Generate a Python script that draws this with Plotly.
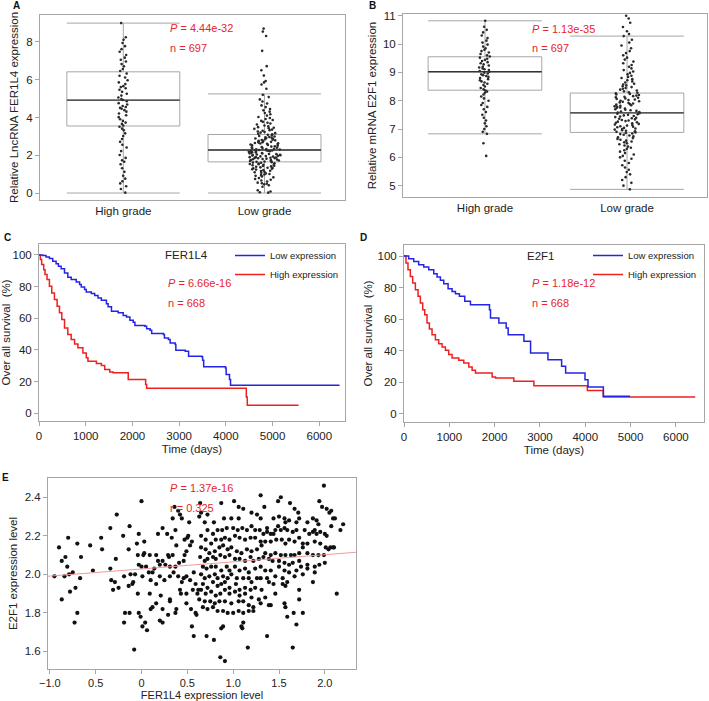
import plotly.graph_objects as go

FONT = "Liberation Sans, Arial, sans-serif"
TXT_RED = "#e8252b"
BLUE = "#2424e6"
RED = "#ee2020"
GRAY = "#a6a6a6"

# ---------------- Panel A / B : box plot data ----------------
grades = ["High grade", "Low grade"]

a_q1 = [3.55, 1.65]
a_median = [4.92, 2.28]
a_q3 = [6.42, 3.10]
a_lower = [0.0, 0.0]
a_upper = [9.0, 5.25]

b_q1 = [8.37, 6.88]
b_median = [9.02, 7.57]
b_q3 = [9.55, 8.27]
b_lower = [6.83, 4.87]
b_upper = [10.82, 10.28]

a_high_pts = [9.0, 8.25, 8.12, 7.95, 7.78, 7.62, 7.48, 7.31, 7.17, 7.06, 6.97, 6.83, 6.71, 6.57,
              6.46, 6.33, 6.21, 6.12, 5.97, 5.86, 5.77, 5.66, 5.61, 5.55, 5.47, 5.36, 5.26, 5.16,
              5.06, 4.98, 4.93, 4.86, 4.76, 4.69, 4.61, 4.56, 4.51, 4.46, 4.39, 4.31, 4.21, 4.12,
              4.02, 3.91, 3.82, 3.73, 3.66, 3.58, 3.51, 3.41, 3.32, 3.16, 3.02, 2.86, 2.71, 2.56,
              2.41, 2.22, 2.01, 1.86, 1.73, 1.66, 1.52, 1.31, 1.12, 0.91, 0.76, 0.62, 0.51, 0.36,
              0.21, 0.02]
a_low_pts = [0.02, 0.04, 0.08, 0.15, 0.33, 0.41, 0.46, 0.49, 0.52, 0.55, 0.61, 0.66, 0.7, 0.74,
             0.79, 0.83, 0.88, 0.91, 0.95, 0.98, 1.01, 1.04, 1.07, 1.1, 1.13, 1.16, 1.18, 1.21,
             1.24, 1.26, 1.29, 1.31, 1.33, 1.34, 1.36, 1.39, 1.41, 1.43, 1.45, 1.47, 1.49, 1.5,
             1.52, 1.54, 1.56, 1.58, 1.6, 1.61, 1.63, 1.65, 1.67, 1.69, 1.7, 1.72, 1.74, 1.75,
             1.77, 1.79, 1.8, 1.82, 1.84, 1.85, 1.86, 1.87, 1.88, 1.9, 1.91, 1.93, 1.94, 1.96,
             1.97, 1.99, 2.0, 2.01, 2.03, 2.04, 2.06, 2.07, 2.09, 2.1, 2.12, 2.13, 2.15, 2.16,
             2.18, 2.19, 2.21, 2.22, 2.24, 2.25, 2.26, 2.27, 2.28, 2.3, 2.31, 2.33, 2.34, 2.36,
             2.38, 2.4, 2.42, 2.44, 2.46, 2.48, 2.51, 2.53, 2.55, 2.57, 2.59, 2.61, 2.62, 2.63,
             2.65, 2.67, 2.69, 2.71, 2.73, 2.75, 2.77, 2.79, 2.81, 2.83, 2.85, 2.87, 2.89, 2.91,
             2.93, 2.95, 2.97, 2.99, 3.02, 3.05, 3.08, 3.11, 3.14, 3.17, 3.2, 3.23, 3.26, 3.3,
             3.33, 3.36, 3.4, 3.43, 3.46, 3.49, 3.53, 3.58, 3.63, 3.68, 3.72, 3.77, 3.82, 3.87,
             3.92, 3.97, 4.03, 4.1, 4.17, 4.24, 4.31, 4.38, 4.45, 4.55, 4.64, 4.74, 4.85, 4.96,
             5.08, 5.2, 5.52, 5.75, 5.86, 5.93, 6.22, 6.5, 6.72, 7.53, 8.32, 8.55, 8.71]

b_high_pts = [10.82, 10.61, 10.5, 10.41, 10.3, 10.21, 10.12, 10.05, 9.98, 9.91, 9.85, 9.8, 9.75,
              9.7, 9.65, 9.6, 9.56, 9.52, 9.48, 9.44, 9.4, 9.36, 9.32, 9.28, 9.24, 9.2, 9.17,
              9.14, 9.11, 9.08, 9.05, 9.02, 8.99, 8.96, 8.93, 8.9, 8.87, 8.84, 8.8, 8.76, 8.72,
              8.68, 8.64, 8.6, 8.55, 8.5, 8.45, 8.4, 8.36, 8.32, 8.28, 8.22, 8.15, 8.08, 8.0,
              7.92, 7.85, 7.78, 7.7, 7.6, 7.5, 7.4, 7.3, 7.2, 7.1, 7.0, 6.9, 6.83, 6.5, 6.05]
b_low_pts = [11.0, 10.9, 10.75, 10.6, 10.45, 10.35, 10.28, 10.15, 10.05, 9.95, 9.85, 9.75, 9.68,
             9.6, 9.52, 9.45, 9.38, 9.32, 9.26, 9.2, 9.14, 9.08, 9.03, 8.98, 8.93, 8.88, 8.84,
             8.8, 8.76, 8.72, 8.68, 8.64, 8.6, 8.57, 8.54, 8.51, 8.48, 8.45, 8.42, 8.39, 8.36,
             8.33, 8.3, 8.28, 8.26, 8.24, 8.22, 8.2, 8.18, 8.16, 8.14, 8.12, 8.1, 8.08, 8.06,
             8.04, 8.02, 8.0, 7.98, 7.96, 7.94, 7.92, 7.9, 7.88, 7.86, 7.84, 7.82, 7.8, 7.78,
             7.76, 7.74, 7.72, 7.7, 7.68, 7.66, 7.64, 7.62, 7.6, 7.58, 7.56, 7.54, 7.52, 7.5,
             7.48, 7.46, 7.44, 7.42, 7.4, 7.38, 7.36, 7.34, 7.32, 7.3, 7.28, 7.26, 7.24, 7.22,
             7.2, 7.18, 7.16, 7.14, 7.12, 7.1, 7.08, 7.06, 7.04, 7.02, 7.0, 6.98, 6.96, 6.94,
             6.92, 6.9, 6.88, 6.86, 6.84, 6.82, 6.8, 6.77, 6.74, 6.71, 6.68, 6.65, 6.62, 6.59,
             6.56, 6.53, 6.5, 6.46, 6.42, 6.38, 6.34, 6.3, 6.25, 6.2, 6.15, 6.1, 6.05, 6.0,
             5.95, 5.88, 5.8, 5.72, 5.64, 5.56, 5.48, 5.4, 5.3, 5.2, 5.1, 5.0, 4.87]

# ---------------- Panel C / D : Kaplan-Meier curves ----------------
c_low_t = [0, 79, 151, 223, 294, 366, 416, 474, 546, 617, 689, 797, 869, 905, 976, 1012, 1120,
           1192, 1263, 1335, 1443, 1479, 1551, 1694, 1802, 1874, 1945, 2017, 2053, 2268, 2304,
           2376, 2412, 2663, 2685, 2771, 2807, 2915, 2929, 3130, 3202, 3489, 3503, 3525, 3992,
           4006, 4078, 4100, 6433]
c_low_s = [100, 99.6, 98.7, 97.7, 96, 94.5, 92.8, 91.2, 88.6, 85.9, 84.4, 82.9, 81.3, 79.8, 78.1,
           76.6, 75.6, 74.3, 72.8, 71.4, 69.1, 67.2, 64.4, 63.4, 61.7, 60.8, 58.7, 57.5, 55.4,
           54.9, 53.3, 52.4, 50.3, 49.7, 47.6, 46.5, 44.4, 43.4, 39.8, 39.2, 36, 35.6, 33.5, 29.3,
           28.6, 24.4, 21.3, 17.7, 17.7]
c_high_t = [0, 29, 57, 101, 129, 172, 223, 273, 330, 388, 438, 488, 546, 617, 689, 761, 833, 940,
            1012, 1048, 1228, 1335, 1407, 1515, 1587, 1910, 2283, 2304, 4437, 4458, 5556]
c_high_s = [100, 97.1, 93.9, 90.7, 87.6, 84.4, 80.2, 76, 71.8, 67.6, 63.4, 59.2, 53.9, 49.7, 46.5,
            43.8, 41.3, 38.1, 35, 32.8, 31.4, 30.1, 27.6, 26.1, 25.5, 21.3, 18.1, 15.8, 10.3, 5.1,
            5.1]

d_low_t = [0, 103, 214, 324, 435, 545, 656, 730, 803, 877, 973, 1061, 1135, 1223, 1341, 1466,
           1886, 1909, 2093, 2255, 2299, 2646, 2793, 3176, 3478, 3567, 3994, 4060, 4399, 4989]
d_low_s = [100, 98.3, 96.6, 94.5, 93, 91.4, 88.8, 86.7, 84.6, 82.5, 79.3, 77.6, 76.2, 74.5, 71.3,
           69.2, 66, 60.8, 57.6, 54.4, 50.2, 46, 38.6, 34.4, 30.2, 26, 21.7, 17.1, 11.2, 11.2]
d_high_t = [0, 44, 88, 140, 192, 251, 310, 361, 413, 457, 508, 560, 619, 693, 766, 840, 914, 987,
            1061, 1209, 1319, 1430, 1503, 1577, 1945, 2019, 2424, 2867, 4046, 4399, 6426]
d_high_s = [100, 95.6, 91.4, 87.1, 82.9, 78.7, 74.5, 70.3, 66.0, 62.9, 57.6, 53.8, 50.2, 47.0,
            44.5, 42.4, 40.3, 37.6, 35.4, 34.0, 32.3, 29.7, 27.6, 25.9, 23.4, 22.8, 20.7, 17.9,
            14.8, 10.8, 10.8]

# ---------------- Panel E : scatter ----------------
e_x = [0.00, -0.27, -0.80, -0.90, -0.70, -0.56, -0.44, -0.43, -0.34, -0.20, -0.13, -0.03, 0.03,
       -0.14, -0.05, -0.83, -0.87, -0.81, -0.66, -0.75, -0.53, -0.95, -0.84, -0.79, -0.67, -0.87,
       -0.78, -0.72, -0.70, -0.73, -0.34, -0.28, -0.33, -0.29, -0.31, -0.25, -0.19, -0.12, -0.10,
       -0.07, -0.04, 0.02, -0.03, 0.00, 0.05, 0.09, 0.03, 0.01, -0.09, -0.14, -0.18, -0.13, -0.19,
       -0.04, -0.03, -0.01, 0.01, 0.04, 0.06, -0.08, 0.08, 0.12, 0.10, 0.14, 0.18, 0.20, 0.16,
       0.18, 0.23, 0.28, 0.33, 0.37, 0.38, 0.29, 0.30, 0.34, 0.23, 0.26, 0.31, 0.37, 0.41, 0.46,
       0.47, 0.49, 0.53, 0.55, 0.50, 0.47, 0.51, 0.20, 0.25, 0.31, 0.35, 0.40, 0.44, 0.42, 0.46,
       0.49, 0.53, 0.57, 0.59, 0.62, 0.61, 0.56, 0.49, 0.43, 0.16, 0.09, 0.16, 0.21, 0.31, 0.31,
       0.23, 0.38, 0.10, 0.12, 0.20, 0.23, 0.29, 0.37, 0.49, 0.54, 0.59, 0.60, 0.55, 0.57, 0.40,
       0.42, 0.44, 0.36, 0.34, 0.52, 0.64, 0.63,
       1.99, 1.30, 1.52, 1.49, 1.62, 1.94, 0.87, 1.01, 1.06, 1.11, 1.34, 1.67, 1.71, 1.97, 2.02,
       2.05, 2.07, 2.09, 2.11, 2.20, 2.17, 0.65, 0.72, 0.90, 0.98, 1.06, 0.79, 1.20, 1.26, 1.30,
       1.44, 1.50, 1.56, 1.57, 1.61, 1.72, 1.69, 1.49, 1.46, 1.44, 1.52, 1.56, 1.59, 1.65, 1.69,
       1.81, 1.87, 1.91, 1.93, 1.89, 1.78, 1.83, 1.87, 1.91, 1.95, 2.00, 2.02, 2.07, 0.69, 0.72,
       0.78, 0.83, 0.88, 0.93, 1.00, 1.05, 1.10, 1.15, 1.20, 1.24, 1.29, 1.33, 1.37, 1.41, 1.37,
       0.65, 0.70, 0.76, 0.81, 0.87, 0.91, 0.96, 1.02, 1.07, 1.13, 1.19, 1.24, 1.30, 1.35, 1.41,
       1.47, 1.53, 1.57, 1.61, 1.67, 1.72, 1.76, 1.81, 1.89, 1.95, 2.01, 2.04, 2.06, 2.09, 2.10,
       0.65, 0.70, 0.74, 0.80, 0.85, 0.89, 0.94, 0.98, 1.04, 1.09, 1.15, 1.20, 1.26, 1.31, 1.35,
       1.41, 1.46, 1.52, 1.57, 1.63, 1.67, 1.72, 1.76, 1.81, 1.87, 1.93, 1.99, 0.64, 0.69, 0.72,
       0.78, 0.81, 0.86, 0.91, 0.96, 1.02, 1.07, 1.13, 1.19, 1.22, 1.28, 1.33, 1.39, 1.43, 1.50,
       1.56, 1.61, 1.65, 1.72, 1.74, 1.81, 1.89, 1.94, 2.00, 0.67, 0.71, 0.76, 0.81, 0.87, 0.93,
       0.96, 1.02, 1.07, 1.13, 1.17, 1.24, 1.30, 1.35, 1.41, 1.50, 1.56, 1.61, 1.69, 1.76, 1.81,
       1.89, 0.65, 0.69, 0.74, 0.80, 0.83, 0.89, 0.94, 0.98, 1.04, 1.11, 1.17, 1.20, 1.26, 1.30,
       1.37, 1.46, 1.54, 1.59, 1.67, 1.57, 1.72, 1.87, 0.67, 0.72, 0.78, 0.83, 0.87, 0.91, 0.96,
       1.03, 1.07, 1.13, 1.19, 1.24, 1.31, 1.39, 1.44, 1.54, 0.65, 0.70, 0.76, 0.81, 0.86, 0.91,
       0.96, 1.02, 1.07, 1.13, 1.20, 1.28, 1.35, 1.46, 2.13, 0.63, 0.69, 0.75, 0.80, 0.85, 0.91,
       0.98, 1.06, 1.11, 1.17, 1.22, 1.30, 1.39, 1.56, 1.72, 0.67, 0.72, 0.78, 0.83, 0.89, 0.94,
       1.00, 1.06, 1.11, 1.17, 1.22, 1.41, 1.57, 1.66, 1.76, 1.59, 1.11, 1.09, 1.10, 0.89, 0.87,
       1.69, 0.71, 0.79, 1.37, 1.16, 1.65, 0.86, 0.91]
e_y = [2.38, 2.31, 2.19, 2.14, 2.16, 2.15, 2.19, 2.13, 2.24, 2.20, 2.25, 2.21, 2.17, 2.13, 2.16,
       2.09, 2.07, 2.04, 2.09, 2.01, 2.02, 1.99, 1.99, 2.00, 1.98, 1.87, 1.91, 1.93, 1.80, 1.75,
       2.03, 2.08, 1.97, 1.96, 1.92, 1.93, 1.99, 2.00, 1.95, 2.00, 2.10, 2.10, 2.05, 2.04, 2.04,
       2.10, 2.11, 1.99, 1.96, 1.94, 1.80, 1.80, 1.75, 1.90, 1.80, 1.78, 1.73, 1.75, 1.71, 1.61,
       2.01, 2.01, 1.97, 2.03, 2.07, 2.05, 2.10, 2.21, 2.24, 2.21, 2.19, 2.23, 2.15, 2.10, 2.09,
       2.10, 2.07, 2.05, 2.04, 2.04, 2.06, 2.07, 2.10, 2.12, 2.15, 2.17, 2.19, 2.18, 2.20, 1.99,
       1.97, 1.99, 2.01, 1.99, 1.96, 1.92, 1.98, 1.99, 1.97, 2.01, 1.95, 1.92, 1.90, 1.92, 1.90,
       1.90, 1.95, 1.90, 1.85, 1.89, 1.87, 1.86, 1.82, 1.82, 1.82, 1.83, 1.76, 1.75, 1.79, 1.80,
       1.85, 1.82, 1.80, 1.79, 1.73, 1.68, 2.33, 2.31, 2.29, 2.35, 2.29, 2.27, 2.37, 2.30,
       2.46, 2.41, 2.40, 2.38, 2.37, 2.38, 2.37, 2.38, 2.35, 2.34, 2.35, 2.34, 2.32, 2.35, 2.34,
       2.32, 2.33, 2.29, 2.29, 2.26, 2.23, 2.32, 2.31, 2.29, 2.29, 2.29, 2.27, 2.32, 2.31, 2.29,
       2.29, 2.30, 2.29, 2.27, 2.28, 2.29, 2.27, 2.25, 2.23, 2.21, 2.23, 2.24, 2.23, 2.22, 2.23,
       2.27, 2.29, 2.28, 2.26, 2.23, 2.23, 2.21, 2.22, 2.21, 2.22, 2.21, 2.20, 2.25, 2.27, 2.23,
       2.21, 2.23, 2.23, 2.24, 2.24, 2.23, 2.24, 2.23, 2.25, 2.23, 2.23, 2.21, 2.22, 2.21, 2.24,
       2.20, 2.18, 2.16, 2.18, 2.18, 2.19, 2.18, 2.20, 2.19, 2.18, 2.19, 2.19, 2.17, 2.17, 2.17,
       2.18, 2.18, 2.16, 2.18, 2.17, 2.19, 2.16, 2.16, 2.17, 2.16, 2.14, 2.13, 2.14, 2.14, 2.14,
       2.14, 2.13, 2.11, 2.12, 2.14, 2.15, 2.13, 2.14, 2.12, 2.11, 2.13, 2.12, 2.13, 2.15, 2.11,
       2.10, 2.11, 2.10, 2.10, 2.10, 2.10, 2.11, 2.14, 2.11, 2.10, 2.10, 2.10, 2.09, 2.07, 2.08,
       2.09, 2.08, 2.10, 2.09, 2.10, 2.08, 2.08, 2.07, 2.09, 2.07, 2.08, 2.09, 2.08, 2.07, 2.07,
       2.06, 2.05, 2.06, 2.07, 2.04, 2.05, 2.04, 2.05, 2.06, 2.04, 2.03, 2.04, 2.04, 2.02, 2.04,
       2.02, 2.04, 2.02, 2.03, 2.01, 2.03, 2.04, 2.02, 2.02, 2.04, 2.02, 2.01, 2.02, 2.00, 2.03,
       2.01, 2.00, 1.98, 1.99, 2.00, 1.98, 1.99, 1.98, 2.00, 1.98, 1.98, 1.98, 1.96, 1.98, 1.98,
       1.98, 1.99, 1.98, 1.96, 1.99, 1.94, 1.92, 1.96, 1.95, 1.93, 1.96, 1.94, 1.95, 1.96, 1.93,
       1.95, 1.92, 1.93, 1.92, 1.93, 1.92, 1.96, 1.95, 1.95, 1.92, 1.90, 1.91, 1.89, 1.90, 1.92,
       1.90, 1.91, 1.89, 1.90, 1.88, 1.87, 1.88, 1.90, 1.90, 1.87, 1.86, 1.86, 1.85, 1.86, 1.86,
       1.85, 1.86, 1.86, 1.84, 1.83, 1.85, 1.84, 1.85, 1.87, 1.83, 1.82, 1.83, 1.81, 1.81, 1.80,
       1.80, 1.81, 1.80, 1.81, 1.81, 1.84, 1.83, 1.80, 1.80, 1.78, 1.75, 1.73, 1.72, 1.73, 1.72,
       1.74, 1.68, 1.66, 1.68, 1.62, 1.62, 1.57, 1.55]

fit_intercept = 2.028
fit_slope = 0.037
e_x_range = [-1.02, 2.34]

# ---------------- Figure ----------------
fig = go.Figure()


def add_box_panel(q1, med, q3, lo, hi, pts_high, pts_low, xa, ya, jit_high, jit_low):
    fig.add_trace(go.Box(x=grades, q1=q1, median=med, q3=q3, lowerfence=lo, upperfence=hi,
                         boxpoints=False, line=dict(color=GRAY, width=1),
                         fillcolor="rgba(0,0,0,0)", whiskerwidth=1, width=0.8,
                         xaxis=xa, yaxis=ya, showlegend=False, hoverinfo="skip"))
    for g, pts, jit in [(grades[0], pts_high, jit_high), (grades[1], pts_low, jit_low)]:
        fig.add_trace(go.Box(x=[g] * len(pts), y=pts, boxpoints="all", jitter=jit, pointpos=0,
                             marker=dict(color="#2a2a2a", size=2.6),
                             line=dict(width=0, color="rgba(0,0,0,0)"),
                             fillcolor="rgba(0,0,0,0)", width=0.8,
                             xaxis=xa, yaxis=ya, showlegend=False))
    fig.add_trace(go.Box(x=grades, q1=med, median=med, q3=med, lowerfence=med, upperfence=med,
                         boxpoints=False, line=dict(color="#333333", width=1.4),
                         fillcolor="rgba(0,0,0,0)", whiskerwidth=0, width=0.8,
                         xaxis=xa, yaxis=ya, showlegend=False, hoverinfo="skip"))


add_box_panel(a_q1, a_median, a_q3, a_lower, a_upper, a_high_pts, a_low_pts, "x", "y", 0.1, 0.28)
add_box_panel(b_q1, b_median, b_q3, b_lower, b_upper, b_high_pts, b_low_pts, "x2", "y2", 0.11, 0.22)

for xa, ya, lg, lt, ls, ht, hs in [("x3", "y3", "legend", c_low_t, c_low_s, c_high_t, c_high_s),
                                   ("x4", "y4", "legend2", d_low_t, d_low_s, d_high_t, d_high_s)]:
    fig.add_trace(go.Scatter(x=ht, y=hs, mode="lines", line=dict(color=RED, width=1.5, shape="hv"),
                             name="High expression", legend=lg, legendrank=2, xaxis=xa, yaxis=ya))
    fig.add_trace(go.Scatter(x=lt, y=ls, mode="lines", line=dict(color=BLUE, width=1.5, shape="hv"),
                             name="Low expression", legend=lg, legendrank=1, xaxis=xa, yaxis=ya))

fig.add_trace(go.Scatter(x=e_x, y=e_y, mode="markers", marker=dict(color="#111111", size=4.2),
                         xaxis="x5", yaxis="y5", showlegend=False))
fig.add_trace(go.Scatter(x=e_x_range, y=[fit_intercept + fit_slope * v for v in e_x_range],
                         mode="lines", line=dict(color="#f19a9a", width=1),
                         xaxis="x5", yaxis="y5", showlegend=False))

W, H = 709, 701


def dx(a, b):
    return [a / W, b / W]


def dy(top, bottom):
    return [1 - bottom / H, 1 - top / H]


TICKF = dict(size=11.5, color="#222", family=FONT)
TITLEF = dict(size=11.5, color="#222", family=FONT)
axc = dict(showline=True, linecolor=GRAY, linewidth=1, mirror=True, ticks="outside", ticklen=4,
           tickcolor=GRAY, showgrid=False, zeroline=False, automargin=False, tickfont=TICKF)

layout = dict(
    template="none",
    width=W, height=H, margin=dict(l=0, r=0, t=0, b=0, pad=0),
    paper_bgcolor="white", plot_bgcolor="white",
    font=dict(family=FONT, color="#222"),
    boxmode="overlay",
    xaxis=dict(axc, domain=dx(40, 345), anchor="y", type="category", range=[-0.59, 1.57],
               ticks="", tickfont=dict(TICKF, size=11.5)),
    yaxis=dict(axc, domain=dy(15, 200), anchor="x", range=[-0.37, 9.43], tickvals=[0, 2, 4, 6, 8],
               title=dict(text="Relative LncRNA FER1L4 expression", standoff=5, font=TITLEF)),
    xaxis2=dict(axc, domain=dx(403, 707), anchor="y2", type="category", range=[-0.577, 1.563],
                ticks="", tickfont=dict(TICKF, size=11.5)),
    yaxis2=dict(axc, domain=dy(14, 197), anchor="x2", range=[4.6, 11.06], dtick=1,
                title=dict(text="Relative mRNA E2F1 expression", standoff=3, font=TITLEF)),
    xaxis3=dict(axc, domain=dx(39, 345), anchor="y3", range=[0, 6550], dtick=1000,
                title=dict(text="Time (days)", standoff=4, font=TITLEF)),
    yaxis3=dict(axc, domain=dy(244, 421), anchor="x3", range=[-4.9, 106.9], dtick=20,
                title=dict(text="Over all survival  (%)", standoff=4, font=TITLEF)),
    xaxis4=dict(axc, domain=dx(404, 704), anchor="y4", range=[0, 6620], dtick=1000,
                title=dict(text="Time (days)", standoff=4, font=TITLEF)),
    yaxis4=dict(axc, domain=dy(245, 422), anchor="x4", range=[-5.1, 107], dtick=20,
                title=dict(text="Over all survival  (%)", standoff=2, font=TITLEF)),
    xaxis5=dict(axc, domain=dx(48, 356), anchor="y5", range=[-1.02, 2.34],
                tickvals=[-1.0, -0.5, 0, 0.5, 1.0, 1.5, 2.0],
                ticktext=["\u22121.0", "0.5", "0", "0.5", "1.0", "1.5", "2.0"],
                tickfont=dict(TICKF, size=11),
                title=dict(text="FER1L4 expression level", standoff=6,
                           font=dict(TITLEF, size=11))),
    yaxis5=dict(axc, domain=dy(478, 669), anchor="x5", range=[1.509, 2.50],
                tickvals=[1.6, 1.8, 2.0, 2.2, 2.4], ticktext=["1.6", "1.8", "2.0", "2.2", "2.4"],
                title=dict(text="E2F1 expression level", standoff=4, font=TITLEF)),
    legend=dict(x=230 / W, y=1 - 241 / H, xanchor="left", yanchor="top",
                bgcolor="rgba(0,0,0,0)", font=dict(size=9.5, color="#222", family=FONT),
                itemwidth=30),
    legend2=dict(x=588 / W, y=1 - 241 / H, xanchor="left", yanchor="top",
                 bgcolor="rgba(0,0,0,0)", font=dict(size=9.5, color="#222", family=FONT),
                 itemwidth=30),
)
fig.update_layout(**layout)


def ann(text, px, py, color=TXT_RED, size=11, xanchor="left", bold=False):
    if bold:
        text = "<b>" + text + "</b>"
    fig.add_annotation(text=text, x=px / W, y=1 - py / H, xref="paper", yref="paper",
                       xanchor=xanchor, yanchor="middle", showarrow=False,
                       font=dict(size=size, color=color, family=FONT))


# stats text
ann("<i>P</i> = 4.44e-32", 168, 28)
ann("n = 697", 168, 48)
ann("<i>P</i> = 1.13e-35", 530, 29)
ann("n = 697", 530, 48)
ann("FER1L4", 186, 255, color="#222", xanchor="center", size=11.5)
ann("<i>P</i> = 6.66e-16", 166, 283)
ann("n = 668", 166, 303)
ann("E2F1", 541, 256, color="#222", xanchor="center", size=11.5)
ann("<i>P</i> = 1.18e-12", 530, 283)
ann("n = 668", 530, 303)
ann("<i>P</i> = 1.37e-16", 168, 488)
ann("r = 0.325", 168, 508)
# panel letters
ann("A", 16, 6, color="#111", size=10, xanchor="center", bold=True)
ann("B", 373, 6, color="#111", size=10, xanchor="center", bold=True)
ann("C", 7, 237, color="#111", size=10, xanchor="center", bold=True)
ann("D", 363, 237, color="#111", size=10, xanchor="center", bold=True)
ann("E", 5, 477, color="#111", size=10, xanchor="center", bold=True)

fig.write_html("out.html", config={"displayModeBar": False},
               post_script="document.body.style.margin='0px';")
